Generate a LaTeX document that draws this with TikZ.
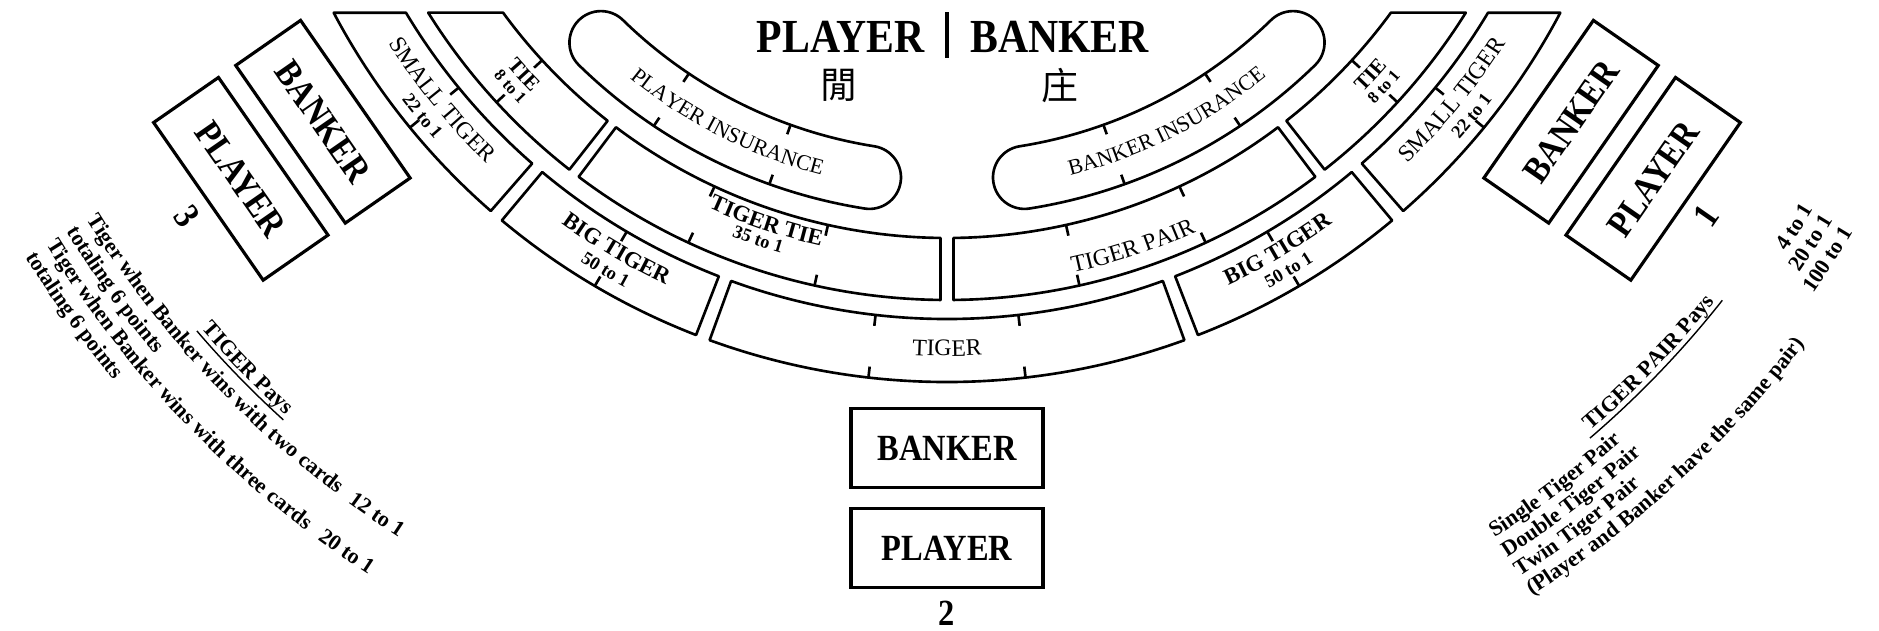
\documentclass[tikz,border=0pt]{standalone}
\usepackage{fontspec}
\setmainfont{Liberation Serif}
\newfontfamily\condfont[FakeStretch=0.88]{Liberation Serif}
\newfontfamily\cjk{Noto Sans CJK TC}
\usetikzlibrary{decorations.text}
\tikzset{
    band/.style={line width=1.5pt, line join=round},
    spotbox/.style={draw, line width=1.8pt, minimum width=3.84cm, minimum height=1.58cm, inner sep=0pt, font=\condfont\bfseries\fontsize{21}{21}\selectfont},
    seatno/.style={inner sep=0pt, font=\condfont\bfseries\fontsize{21}{21}\selectfont},
    title/.style={inner sep=0pt, font=\condfont\bfseries\fontsize{27}{27}\selectfont},
    hanzi/.style={inner sep=0pt, font=\cjk\fontsize{21}{21}\selectfont}
}
\newcommand\fname{\fontsize{13.5}{14}\selectfont}
\newcommand\fins{\fontsize{12.5}{14}\selectfont}
\newcommand\fbold{\bfseries\fontsize{13}{14}\selectfont}
\newcommand\fodds{\bfseries\fontsize{10.5}{12}\selectfont}
\newcommand\ftie{\bfseries\fontsize{12}{13}\selectfont}
\newcommand\ftieodds{\bfseries\fontsize{9.5}{10}\selectfont}
\newcommand\fpays{\bfseries\fontsize{12.5}{14}\selectfont}
% box between two radii: angles a,b on the inner arc, c,d on the outer one
\newcommand\band[6]{\draw[band] (#1:#5) arc[start angle=#1, end angle=#2, radius=#5] -- (#3:#6) arc[start angle=#3, end angle=#4, radius=#6] -- cycle;}
\newcommand\pill[2]{\draw[band] (#1:527) arc[start angle=#1, end angle=#2, radius=527]
    arc[start angle=#2, end angle={#2+180}, radius=31.5]
    arc[start angle=#2, end angle=#1, radius=464]
    arc[start angle={#1+180}, end angle={#1+360}, radius=31.5] -- cycle;}
\newcommand\arclabel[4]{\path[decorate, decoration={text along path, text align=center, text={|#3|#4}}]
    ({#1-40}:#2) arc[start angle={#1-40}, end angle={#1+40}, radius=#2];}
\newcommand\arcline[4]{\path[decorate, decoration={text along path, text align=left, text={|#3|#4}}]
    (#1:#2) arc[start angle=#1, end angle={#1+40}, radius=#2];}
\newcommand\arcodds[4]{\path[decorate, decoration={text along path, text align=right, text={|#3|#4}}]
    ({#1-30}:#2) arc[start angle={#1-30}, end angle=#1, radius=#2];}

\begin{document}
\begin{tikzpicture}[x=0.02cm, y=0.02cm]
\useasboundingbox (-947,-942) rectangle (932,-312);

\draw[line width=2.2pt] (0,-324) -- (0,-369.5);
\node[title, anchor=base east] (ptitle) at (-22,-364.7) {PLAYER};
\node[title, anchor=base west] (btitle) at (23,-364.7) {BANKER};
\node[hanzi] (phan) at (-108,-397.7) {閒};
\node[hanzi] (bhan) at (113,-397.7) {庄};

% outer ring
\band{-110}{-70}{-70}{-110}{631}{694}
\band{-129.9}{-111.2}{-111.2}{-129.9}{631}{694}
\band{-68.8}{-50.1}{-50.1}{-68.8}{631}{694}
\band{-131.1}{-149.03}{-152.1}{-131.1}{631}{694}
\band{-48.9}{-30.97}{-27.9}{-48.9}{631}{694}
% middle ring
\band{-127}{-90.68}{-90.61}{-127}{550}{612}
\band{-89.32}{-53}{-53}{-89.39}{550}{612}
\band{-128.1}{-143.82}{-147.96}{-128.1}{550}{612}
\band{-51.9}{-36.18}{-32.04}{-51.9}{550}{612}
% insurance
\pill{-134.3}{-99}
\pill{-81}{-45.7}

\foreach \a in {-96.5,-83.5,-120.5,-59.5,-140.7,-39.3} {
    \draw[band] (\a:631) -- (\a:642);
    \draw[band] (\a:694) -- (\a:683);
}
\foreach \a in {-137.4,-42.6,-115,-102.5,-77.5,-65} {
    \draw[band] (\a:550) -- (\a:561);
    \draw[band] (\a:612) -- (\a:601);
}
\foreach \a in {-123.8,-109.7,-70.3,-56.2} {
    \draw[band] (\a:464) -- (\a:474);
    \draw[band] (\a:527) -- (\a:517);
}

\arclabel{-90}{668}{\fname}{TIGER}
\arclabel{-120.5}{660}{\fbold}{BIG TIGER}
\arclabel{-120.4}{681}{\fodds}{50 to 1}
\arclabel{-59.5}{660}{\fbold}{BIG TIGER}
\arclabel{-59.6}{681}{\fodds}{50 to 1}
\arclabel{-140.8}{662}{\fname}{SMALL TIGER}
\arclabel{-140.8}{683}{\fodds}{22 to 1}
\arclabel{-39.2}{662}{\fname}{SMALL TIGER}
\arclabel{-39.2}{683}{\fodds}{22 to 1}
\arclabel{-137.6}{580}{\ftie}{TIE}
\arclabel{-137.6}{597}{\ftieodds}{8 to 1}
\arclabel{-42.4}{580}{\ftie}{TIE}
\arclabel{-42.4}{597}{\ftieodds}{8 to 1}
\arclabel{-108.7}{572}{\fbold}{TIGER TIE}
\arclabel{-108.9}{589}{\fodds}{35 to 1}
\arclabel{-71.6}{598}{\fname}{TIGER PAIR}
\arclabel{-116.8}{503}{\fins}{PLAYER INSURANCE}
\arclabel{-63.2}{503}{\fins}{BANKER INSURANCE}

\foreach \a/\n in {-145.2/3, -90/2, -34.8/1} {
    \node[spotbox, rotate=\a+90] (bank\n) at (\a:760) {BANKER};
    \node[spotbox, rotate=\a+90] (play\n) at (\a:860) {PLAYER};
    \node[seatno, rotate=\a+90] (seat\n) at (\a:925) {\n};
}

\arclabel{-135.8}{983}{\fpays}{TIGER Pays}
\draw[line width=0.8pt] (-139.4:988) arc[start angle=-139.4, end angle=-132.2, radius=988];
\arcline{-148.3}{1011}{\fpays}{Tiger when Banker wins with two cards}
\arcline{-148.3}{1035}{\fpays}{totaling 6 points}
\arcline{-148.3}{1059}{\fpays}{Tiger when Banker wins with three cards}
\arcline{-148.3}{1083}{\fpays}{totaling 6 points}
\arclabel{-124.6}{1011}{\fpays}{12 to 1}
\arclabel{-124.8}{1059}{\fpays}{20 to 1}

\arclabel{-43.85}{983}{\fpays}{TIGER PAIR Pays}
\draw[line width=0.8pt] (-49.4:988) arc[start angle=-49.4, end angle=-38.3, radius=988];
\arcline{-57.2}{1011}{\fpays}{Single Tiger Pair}
\arcline{-57.2}{1034}{\fpays}{Double Tiger Pair}
\arcline{-57.2}{1057}{\fpays}{Twin Tiger Pair}
\arcline{-57.2}{1080}{\fpays}{(Player and Banker have the same pair)}
\arcodds{-31}{1011}{\fpays}{4 to 1}
\arcodds{-31}{1034}{\fpays}{20 to 1}
\arcodds{-31}{1057}{\fpays}{100 to 1}
\end{tikzpicture}
\end{document}
